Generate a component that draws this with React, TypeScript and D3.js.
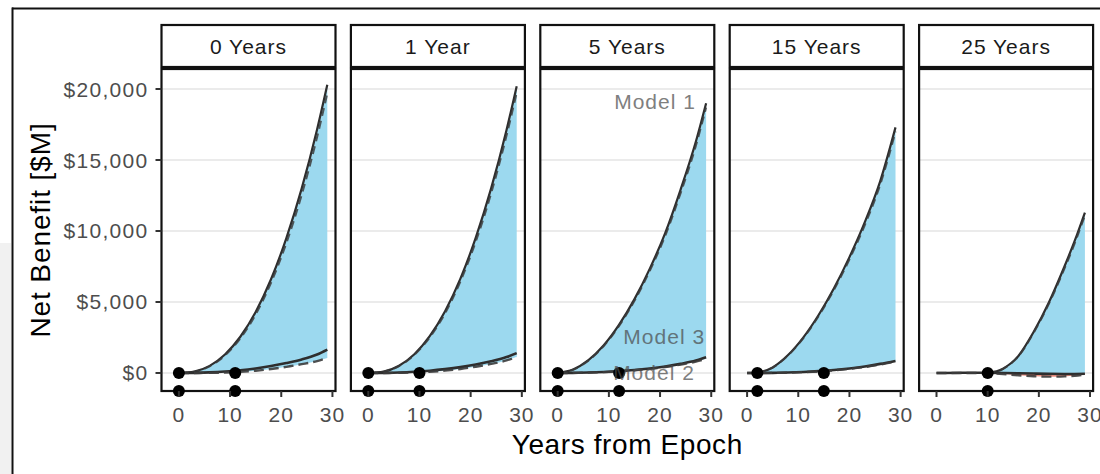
import React from "react";
import * as d3 from "d3";

// Facet titles (time since epoch at which the programme starts)
const panelTitles = ["0 Years", "1 Year", "5 Years", "15 Years", "25 Years"];

// Sample years for each facet
const panelYears = [
  [0, 3, 6, 9, 12, 15, 18, 21, 24, 27, 29],
  [0, 3, 6, 9, 12, 15, 18, 21, 24, 27, 29],
  [0, 3, 6, 9, 12, 15, 18, 21, 24, 27, 29],
  [0, 2, 5, 8, 11, 14, 17, 20, 23, 26, 29],
  [0, 5, 10, 13, 16, 19, 22, 25, 27, 29],
];

// Model 1 net benefit ($M), solid
const model1 = [
  [0, 100, 500, 1300, 2550, 4300, 6600, 9500, 13000, 17150, 20300],
  [0, 100, 510, 1320, 2590, 4350, 6650, 9530, 13000, 17100, 20200],
  [0, 240, 900, 1950, 3400, 5200, 7350, 9850, 12900, 16300, 19000],
  [null, 0, 390, 1260, 2510, 4100, 5990, 8160, 10620, 13500, 17300],
  [null, null, 0, 300, 1200, 2900, 5000, 7500, 9300, 11300],
];

// Model 1 net benefit ($M), alternative run, dashed
const model1Alt = [
  [0, 90, 470, 1230, 2430, 4120, 6350, 9150, 12550, 16600, 19700],
  [0, 95, 490, 1270, 2500, 4200, 6450, 9250, 12650, 16700, 19750],
  [0, 230, 870, 1900, 3320, 5080, 7200, 9650, 12650, 16000, 18700],
  [null, 0, 380, 1230, 2460, 4020, 5880, 8000, 10420, 13250, 17000],
  [null, null, 0, 290, 1170, 2840, 4900, 7350, 9120, 11100],
];

// Model 3 net benefit ($M), solid
const model3 = [
  [0, 10, 40, 100, 190, 320, 490, 700, 950, 1300, 1650],
  [0, 10, 35, 85, 160, 270, 410, 590, 820, 1120, 1400],
  [0, 10, 30, 70, 130, 210, 320, 460, 640, 870, 1100],
  [0, 0, 10, 30, 70, 130, 210, 320, 460, 640, 850],
  [0, 20, 20, 0, -20, -40, -60, -70, -70, -60],
];

// Model 2 net benefit ($M), dashed
const model2 = [
  [0, 0, 10, 30, 80, 160, 280, 430, 620, 840, 1050],
  [0, 0, 10, 35, 85, 165, 280, 440, 640, 880, 1150],
  [0, 5, 25, 60, 115, 190, 290, 420, 590, 800, 1000],
  [0, 0, 5, 25, 60, 115, 190, 290, 420, 590, 800],
  [0, 0, -20, -80, -160, -230, -260, -240, -200, -120],
];

// Break-even years marked with dots
const breakEvenYears = [[0, 11], [0, 10], [0, 12], [2, 15], [10]];

// Model annotations (shown in the "5 Years" facet)
const labelPanel = 2;
const labelTexts = ["Model 1", "Model 3", "Model 2"];
const labelYears = [27, 28.8, 26.8];
const labelValues = [19100, 2550, 0];

const yTicks = [0, 5000, 10000, 15000, 20000];
const xTicks = [0, 10, 20, 30];

const W = 1100;
const H = 474;
const PANEL_LEFT = 161.5;
const PANEL_STEP = 189.4;
const PANEL_W = 174;
const PANEL_TOP = 69;
const PANEL_BOTTOM = 391;
const STRIP_TOP = 25;
const STRIP_BOTTOM = 67;

const FONT = "'Liberation Sans', Arial, Helvetica, sans-serif";
const RIBBON_POS = "#9cd9ef";
const RIBBON_NEG = "#ee8f80";
const LINE_COL = "#2e2e2e";
const GRID_COL = "#ebebeb";
const BORDER_COL = "#111";

const y = d3.scaleLinear().domain([-1270, 21410]).range([PANEL_BOTTOM, PANEL_TOP]);
const dollar = d3.format("$,");

type Row = { t: number; m1: number | null; m1b: number | null; m3: number; m2: number };

function Panel({ i }: { i: number }) {
  const left = PANEL_LEFT + i * PANEL_STEP;
  const x = d3.scaleLinear().domain([-3.4, 30.6]).range([left, left + PANEL_W]);
  const rows: Row[] = panelYears[i].map((t, k) => ({
    t,
    m1: model1[i][k],
    m1b: model1Alt[i][k],
    m3: model3[i][k],
    m2: model2[i][k],
  }));

  const lineFor = (key: keyof Row) =>
    d3
      .line<Row>()
      .defined((d) => d[key] != null)
      .x((d) => x(d.t))
      .y((d) => y(d[key] as number))
      .curve(d3.curveMonotoneX)(rows) || "";

  const ribbon =
    d3
      .area<Row>()
      .defined((d) => d.m1 != null)
      .x((d) => x(d.t))
      .y0((d) => y(d.m2))
      .y1((d) => y(d.m1 as number))
      .curve(d3.curveMonotoneX)(rows) || "";

  const zeroY = y(0);
  const labels = i === labelPanel ? labelTexts : [];

  return (
    <g>
      <defs>
        <clipPath id={`pos-${i}`}>
          <rect x={left} y={PANEL_TOP} width={PANEL_W} height={zeroY - PANEL_TOP} />
        </clipPath>
        <clipPath id={`neg-${i}`}>
          <rect x={left} y={zeroY} width={PANEL_W} height={PANEL_BOTTOM - zeroY} />
        </clipPath>
      </defs>

      {/* strip */}
      <rect
        x={left}
        y={STRIP_TOP}
        width={PANEL_W}
        height={STRIP_BOTTOM - STRIP_TOP}
        fill="#fff"
        stroke={BORDER_COL}
        strokeWidth={2.2}
      />
      <text
        x={left + PANEL_W / 2}
        y={(STRIP_TOP + STRIP_BOTTOM) / 2 + 7.5}
        textAnchor="middle"
        fontSize={21}
        letterSpacing={1}
        fill="#1a1a1a"
        fontFamily={FONT}
      >
        {panelTitles[i]}
      </text>

      {/* grid */}
      {yTicks.map((v) => (
        <line key={v} x1={left} x2={left + PANEL_W} y1={y(v)} y2={y(v)} stroke={GRID_COL} strokeWidth={2} />
      ))}

      {/* ribbon between models, split at zero */}
      <path d={ribbon} fill={RIBBON_POS} clipPath={`url(#pos-${i})`} />
      <path d={ribbon} fill={RIBBON_NEG} clipPath={`url(#neg-${i})`} />

      {/* model lines */}
      <path d={lineFor("m1")} fill="none" stroke={LINE_COL} strokeWidth={2.2} />
      <path d={lineFor("m1b")} fill="none" stroke="#3c3c3c" strokeWidth={2} strokeDasharray="8,5" opacity={0.85} />
      <path d={lineFor("m3")} fill="none" stroke={LINE_COL} strokeWidth={2.6} />
      <path d={lineFor("m2")} fill="none" stroke="#3c3c3c" strokeWidth={2.4} strokeDasharray="10,5" opacity={0.9} />

      {/* break-even markers */}
      {breakEvenYears[i].map((t) => (
        <circle key={t} cx={x(t)} cy={y(0)} r={6} fill="#000" />
      ))}

      {labels.map((s, k) => (
        <text
          key={s}
          x={x(labelYears[k])}
          y={y(labelValues[k]) + 7.5}
          textAnchor="end"
          fontSize={21}
          letterSpacing={1}
          fill="#4a4a4a"
          opacity={0.7}
          fontFamily={FONT}
        >
          {s}
        </text>
      ))}

      {/* panel border */}
      <rect
        x={left}
        y={PANEL_TOP}
        width={PANEL_W}
        height={PANEL_BOTTOM - PANEL_TOP}
        fill="none"
        stroke={BORDER_COL}
        strokeWidth={2.2}
      />

      {/* rug markers on the axis */}
      {breakEvenYears[i].map((t) => (
        <circle key={t} cx={x(t)} cy={y(y.domain()[0])} r={6} fill="#000" />
      ))}

      {/* x axis */}
      {xTicks.map((v) => (
        <g key={v}>
          <line x1={x(v)} x2={x(v)} y1={PANEL_BOTTOM} y2={PANEL_BOTTOM + 6} stroke="#333" strokeWidth={2} />
          <text
            x={x(v)}
            y={PANEL_BOTTOM + 31}
            textAnchor="middle"
            fontSize={21}
            letterSpacing={1}
            fill="#4d4d4d"
            fontFamily={FONT}
          >
            {v}
          </text>
        </g>
      ))}
    </g>
  );
}

export default function App() {
  const panels = panelTitles.map((_, i) => i);
  const plotCenter = (PANEL_LEFT + PANEL_LEFT + 4 * PANEL_STEP + PANEL_W) / 2;
  return (
    <div style={{ position: "absolute", left: 0, top: 0 }}>
      <svg width={W} height={H} style={{ display: "block", background: "#fff" }}>
        {/* window surround */}
        <rect x={0} y={243} width={11} height={H - 243} fill="#f1f1f1" />
        <line x1={12.5} x2={12.5} y1={7.5} y2={H} stroke="#111" strokeWidth={2} />
        <line x1={12} x2={W} y1={8.5} y2={8.5} stroke="#111" strokeWidth={2} />

        {panels.map((i) => (
          <Panel key={i} i={i} />
        ))}

        {/* y axis */}
        {yTicks.map((v) => (
          <g key={v}>
            <line x1={PANEL_LEFT - 6} x2={PANEL_LEFT} y1={y(v)} y2={y(v)} stroke="#333" strokeWidth={2} />
            <text
              x={PANEL_LEFT - 13}
              y={y(v) + 7.5}
              textAnchor="end"
              fontSize={21}
              letterSpacing={1.3}
              fill="#4d4d4d"
              fontFamily={FONT}
            >
              {dollar(v)}
            </text>
          </g>
        ))}

        <text
          transform={`translate(50, ${(PANEL_TOP + PANEL_BOTTOM) / 2}) rotate(-90)`}
          textAnchor="middle"
          fontSize={28}
          letterSpacing={0.9}
          fill="#000"
          fontFamily={FONT}
        >
          Net Benefit [$M]
        </text>
        <text
          x={plotCenter}
          y={454}
          textAnchor="middle"
          fontSize={28}
          letterSpacing={0.6}
          fill="#000"
          fontFamily={FONT}
        >
          Years from Epoch
        </text>
      </svg>
    </div>
  );
}
